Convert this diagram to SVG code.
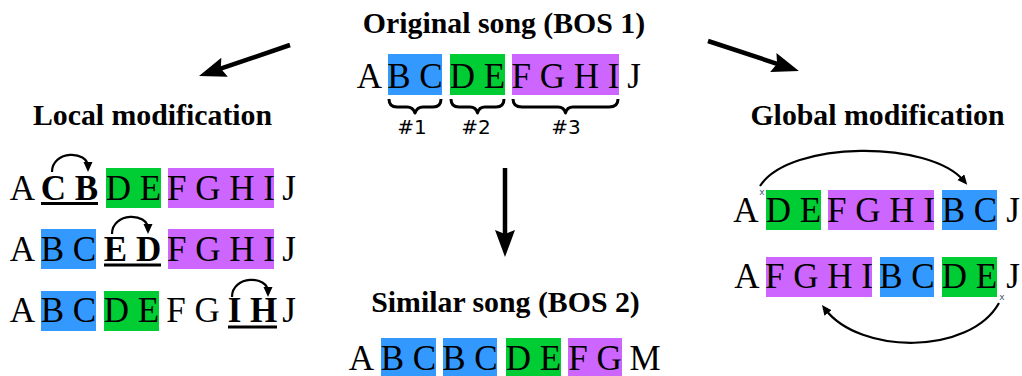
<svg xmlns="http://www.w3.org/2000/svg" width="1022" height="376" viewBox="0 0 1022 376">
<style>
.t{font-family:"Liberation Serif","Times New Roman",serif;font-weight:bold;font-size:29.8px;fill:#000;text-anchor:middle}
.s{font-family:"Liberation Serif","Times New Roman",serif;font-size:35px;fill:#000;text-anchor:middle}
.b{font-weight:bold}
.lbl{font-family:"DejaVu Sans",sans-serif;font-size:20px;fill:#000;text-anchor:middle}
.x{font-family:"DejaVu Sans",sans-serif;font-size:9px;fill:#4a5a70;text-anchor:middle}
.blue{fill:#3399ff}.green{fill:#00cc33}.purple{fill:#cc66ff}
.ul{stroke:#000;stroke-width:3}
.big{stroke:#000;stroke-width:4.5;fill:none}
.arc{stroke:#000;stroke-width:2.2;fill:none}
.brace{stroke:#000;stroke-width:3;fill:none;stroke-linejoin:round}
</style>
<defs>
<marker id="bigHead" markerUnits="userSpaceOnUse" markerWidth="30" markerHeight="22" refX="12" refY="10" orient="auto">
<path d="M0,0 L27,10 L0,20 L4,10 z" fill="#000"/>
</marker>
<marker id="smallHead" markerUnits="userSpaceOnUse" markerWidth="12" markerHeight="12" refX="5" refY="4.5" orient="auto">
<path d="M0,0 L10,4.5 L0,9 z" fill="#000"/>
</marker>
</defs>

<g id="connectors">
<line class="big" x1="290" y1="45" x2="213.2" y2="71.2" marker-end="url(#bigHead)"/>
<line class="big" x1="708" y1="41" x2="784.7" y2="66.3" marker-end="url(#bigHead)"/>
<line class="big" x1="505" y1="168" x2="505" y2="242" marker-end="url(#bigHead)"/>
<path class="arc" d="M52,172 C52,150 88,150 88,167" marker-end="url(#smallHead)"/>
<path class="arc" d="M112,234 C112,212 148,212 148,229" marker-end="url(#smallHead)"/>
<path class="arc" d="M232,297 C232,275 268,275 268,292" marker-end="url(#smallHead)"/>
<path class="arc" d="M760,186 C790,140 930,140 964,181" marker-end="url(#smallHead)"/>
<path class="arc" d="M999,303 C970,355 860,355 825,309" marker-end="url(#smallHead)"/>
</g>

<g id="original">
<text class="t" x="504" y="33">Original song (BOS 1)</text>
<rect class="blue" x="388" y="54" width="54" height="41"/>
<rect class="green" x="450" y="54" width="55" height="41"/>
<rect class="purple" x="512" y="54" width="107" height="41"/>
<text class="s" x="369.5" y="88">A</text>
<text class="s" x="415" y="88">B C</text>
<text class="s" x="477.5" y="88">D E</text>
<text class="s" x="565.5" y="88">F G H I</text>
<text class="s" x="634" y="88">J</text>
<path class="brace" d="M389,99 Q389,107 397,107 L407,107 Q413,107 415,113 Q417,107 423,107 L433,107 Q441,107 441,99"/>
<path class="brace" d="M451,99 Q451,107 459,107 L470,107 Q476,107 477.5,113 Q479,107 485,107 L496,107 Q504,107 504,99"/>
<path class="brace" d="M513,99 Q513,107 522,107 L558,107 Q564,107 565.5,113 Q567,107 573,107 L609,107 Q618,107 618,99"/>
<text class="lbl" x="412" y="134">#1</text>
<text class="lbl" x="476" y="134">#2</text>
<text class="lbl" x="566" y="134">#3</text>
</g>

<g id="local">
<text class="t" x="152.5" y="125">Local modification</text>
<rect class="green" x="106" y="168" width="55" height="40"/>
<rect class="purple" x="168" y="168" width="106" height="40"/>
<text class="s" x="22.5" y="200">A</text>
<text class="s b" x="69.5" y="200">C B</text>
<line class="ul" x1="41" y1="203.5" x2="98" y2="203.5"/>
<text class="s" x="133.5" y="200">D E</text>
<text class="s" x="221" y="200">F G H I</text>
<text class="s" x="289" y="200">J</text>

<rect class="blue" x="41" y="229" width="55" height="40"/>
<rect class="purple" x="168" y="229" width="106" height="40"/>
<text class="s" x="22.5" y="261">A</text>
<text class="s" x="68.5" y="261">B C</text>
<text class="s b" x="132.5" y="261">E D</text>
<line class="ul" x1="104" y1="265" x2="161" y2="265"/>
<text class="s" x="221" y="261">F G H I</text>
<text class="s" x="289" y="261">J</text>

<rect class="blue" x="41" y="291" width="55" height="40"/>
<rect class="green" x="104" y="291" width="55" height="40"/>
<text class="s" x="22.5" y="322">A</text>
<text class="s" x="68.5" y="322">B C</text>
<text class="s" x="131.5" y="322">D E</text>
<text class="s" x="193" y="322">F G</text>
<text class="s b" x="252.5" y="322">I H</text>
<line class="ul" x1="228" y1="327" x2="277" y2="327"/>
<text class="s" x="289" y="322">J</text>
</g>

<g id="global">
<text class="t" x="877.5" y="125">Global modification</text>
<rect class="green" x="766" y="190" width="55" height="40"/>
<rect class="purple" x="828" y="190" width="106" height="40"/>
<rect class="blue" x="942" y="190" width="55" height="40"/>
<text class="s" x="746" y="222">A</text>
<text class="x" x="762" y="195">x</text>
<text class="s" x="793.5" y="222">D E</text>
<text class="s" x="881" y="222">F G H I</text>
<text class="s" x="969.5" y="222">B C</text>
<text class="s" x="1013" y="222">J</text>

<rect class="purple" x="766" y="257" width="106" height="40"/>
<rect class="blue" x="880" y="257" width="54" height="40"/>
<rect class="green" x="942" y="257" width="55" height="40"/>
<text class="s" x="747" y="288">A</text>
<text class="s" x="819" y="288">F G H I</text>
<text class="s" x="907" y="288">B C</text>
<text class="s" x="969.5" y="288">D E</text>
<text class="x" x="1002" y="300">x</text>
<text class="s" x="1013" y="288">J</text>
</g>

<g id="similar">
<text class="t" x="505.5" y="312">Similar song (BOS 2)</text>
<rect class="blue" x="381" y="338" width="55" height="41"/>
<rect class="blue" x="443" y="338" width="54" height="41"/>
<rect class="green" x="506" y="338" width="55" height="41"/>
<rect class="purple" x="568" y="338" width="54" height="41"/>
<text class="s" x="361.5" y="370">A</text>
<text class="s" x="408.5" y="370">B C</text>
<text class="s" x="470" y="370">B C</text>
<text class="s" x="533.5" y="370">D E</text>
<text class="s" x="595" y="370">F G</text>
<text class="s" x="645" y="370">M</text>
</g>
</svg>
